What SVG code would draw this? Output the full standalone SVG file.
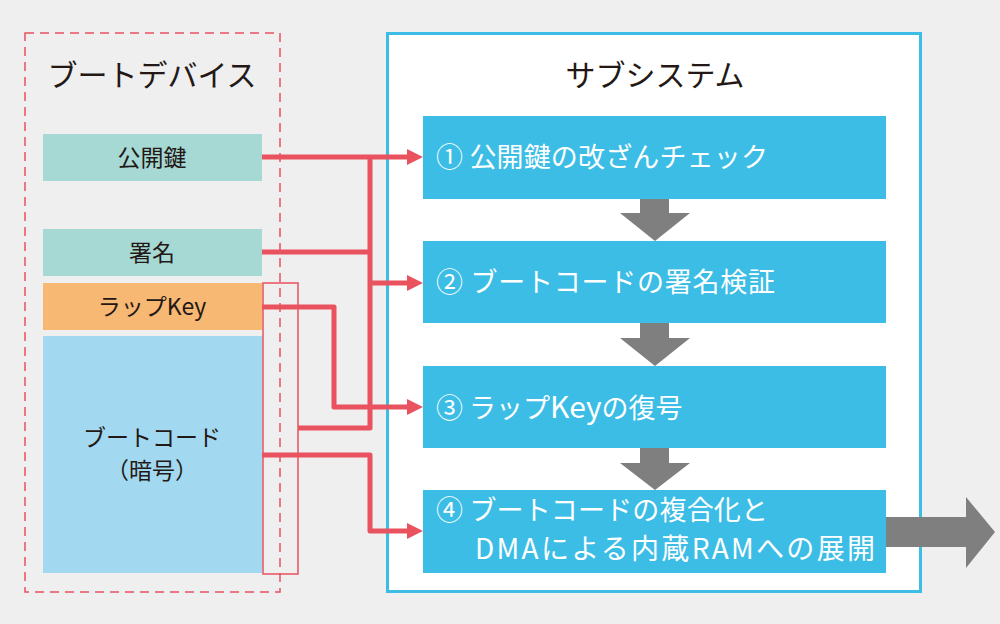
<svg xmlns="http://www.w3.org/2000/svg" width="1000" height="624" viewBox="0 0 1000 624">
<defs>
<marker id="ah" markerUnits="userSpaceOnUse" markerWidth="16" markerHeight="16" viewBox="0 0 16 16" refX="0" refY="8" orient="auto"><path d="M0,0 L16,8 L0,16 z" fill="#e9525f"/></marker>
</defs>
<style>
.jp{font-family:"Noto Sans CJK JP","Noto Sans",sans-serif}
.lbl{font-size:23px;fill:#231815;text-anchor:middle}
.ttl{font-size:30px;fill:#231815;text-anchor:middle}
.step{font-size:27px;fill:#ffffff}
.lat{font-size:30px}
.red{fill:none;stroke:#e9525f;stroke-width:5;stroke-linejoin:round}
.gray{fill:#7f7f7f}
.sbox{fill:#3bbde6}
</style>
<rect width="1000" height="624" fill="#efefef"/>
<g id="boot-device">
<rect x="25" y="33" width="255" height="559" fill="none" stroke="#e9525f" stroke-width="1.5" stroke-dasharray="9,6"/>
<text class="jp ttl" x="152" y="86">ブートデバイス</text>
</g>
<g id="subsystem">
<rect x="387.5" y="33.5" width="533" height="558" fill="#ffffff" stroke="#3bbde6" stroke-width="3"/>
<text class="jp ttl" x="655" y="86">サブシステム</text>
</g>
<g id="pubkey">
<rect x="43" y="134" width="219" height="47" fill="#a6d9d4"/>
<text class="jp lbl" x="152" y="166">公開鍵</text>
</g>
<g id="signature">
<rect x="43" y="229" width="219" height="47" fill="#a6d9d4"/>
<text class="jp lbl" x="152" y="261">署名</text>
</g>
<g id="wrapkey">
<rect x="43" y="283" width="219" height="47" fill="#f7b874"/>
<text class="jp lbl" x="152" y="315">ラップKey</text>
</g>
<g id="bootcode">
<rect x="43" y="336" width="219" height="237" fill="#a2d8f0"/>
<text class="jp lbl" x="152" y="446">ブートコード</text>
<text class="jp lbl" x="152" y="479">（暗号）</text>
</g>
<g id="bracket">
<rect x="263" y="283" width="35" height="291" fill="none" stroke="#e9525f" stroke-width="1.5"/>
</g>
<g id="step1">
<rect class="sbox" x="423" y="116" width="463" height="83"/>
<text class="jp step" x="436" y="167" textLength="332" lengthAdjust="spacing">① 公開鍵の改ざんチェック</text>
</g>
<g id="step2">
<rect class="sbox" x="423" y="241" width="463" height="82"/>
<text class="jp step" x="436" y="292" textLength="339" lengthAdjust="spacing">② ブートコードの署名検証</text>
</g>
<g id="step3">
<rect class="sbox" x="423" y="366" width="463" height="82"/>
<text class="jp step" x="436" y="418">③ ラップ<tspan class="lat">Key</tspan>の復号</text>
</g>
<g id="step4">
<rect class="sbox" x="423" y="490" width="463" height="83"/>
<text class="jp step" x="436" y="520" textLength="332" lengthAdjust="spacing">④ ブートコードの複合化と</text>
<text class="jp step" x="475" y="559" style="font-size:28px" textLength="400" lengthAdjust="spacing">DMAによる内蔵RAMへの展開</text>
</g>
<g id="connectors">
<path class="red" d="M262,157 H407" marker-end="url(#ah)"/>
<path class="red" d="M370,157 V428 H298"/>
<path class="red" d="M262,252 H370"/>
<path class="red" d="M370,283 H407" marker-end="url(#ah)"/>
<path class="red" d="M262,307 H334 V407 H407" marker-end="url(#ah)"/>
<path class="red" d="M262,455 H370 V531 H407" marker-end="url(#ah)"/>
<polygon class="gray" points="640,199 669,199 669,213 690,213 655,241 620,213 640,213"/>
<polygon class="gray" points="640,323 669,323 669,338 690,338 655,366 620,338 640,338"/>
<polygon class="gray" points="640,448 669,448 669,463 690,463 655,490 620,463 640,463"/>
<polygon class="gray" points="886,517 966,517 966,497 995,532 966,568 966,547 886,547"/>
</g>
</svg>
